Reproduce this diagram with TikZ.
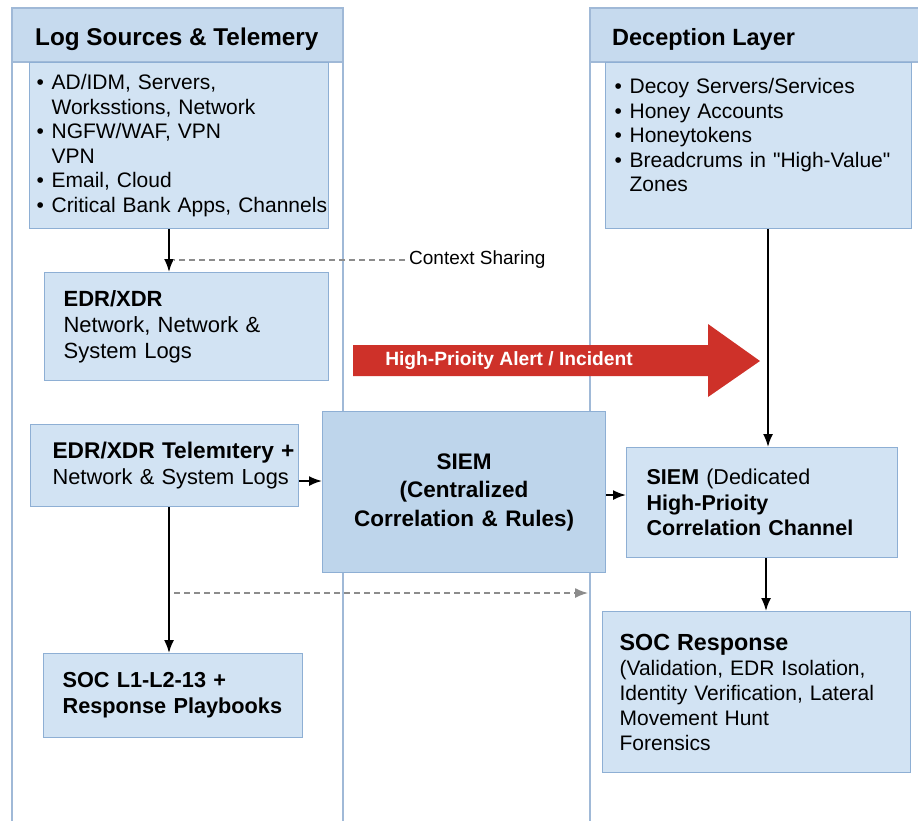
\documentclass[tikz,border=0pt]{standalone}
\usepackage{fontspec}
\setmainfont{Liberation Sans}
% same face without the TeX character mapping, for straight quotes
\newfontfamily\plainquote{Liberation Sans}
\usetikzlibrary{arrows.meta,calc}

\definecolor{headfill}{HTML}{C6DAEE}
\definecolor{boxfill}{HTML}{D2E3F3}
\definecolor{siemfill}{HTML}{BED5EB}
\definecolor{boxline}{HTML}{8EAFD4}
\definecolor{laneline}{HTML}{A0B9D7}
\definecolor{alertred}{HTML}{CE3129}
\definecolor{dashgray}{HTML}{8C8C8C}

% one unbreakable line of box text
\newcommand\bline[1]{\mbox{#1}}
\newcommand\bul{\makebox[15pt][l]{•}}
\newcommand\ind{\hspace*{15pt}}
\newcommand\fs[2]{\fontsize{#1}{#2}\selectfont}
\newcommand\sq{{\plainquote"}}

\tikzset{
  lane/.style={draw=laneline, line width=1.5pt},
  headtext/.style={anchor=base west, inner sep=0pt, font=\fs{23.5}{28}\bfseries},
  box/.style={draw=boxline, fill=boxfill, line width=1.2pt, anchor=north west,
              align=left, inner ysep=0pt},
  arr/.style={draw=black, line width=1.8pt, -{Latex[length=13pt,width=10pt]}},
  ctxline/.style={draw=dashgray, line width=1.2pt, dash pattern=on 6pt off 4pt},
  dasharrow/.style={draw=dashgray, line width=1.6pt, dash pattern=on 6pt off 4pt,
                    -{Latex[length=13pt,width=10pt]}},
}

\begin{document}
\begin{tikzpicture}[x=1pt,y=-1pt]
\useasboundingbox (0,0) rectangle (918,820);
\fill[white] (0,0) rectangle (918,820);

% swimlanes
\begin{scope}
  \clip (0,0) rectangle (918,820);
  \fill[headfill] (12,8) rectangle (343,62);
  \fill[headfill] (590,8) rectangle (940,62);
  \draw[lane] (12,62) -- (343,62);
  \draw[lane] (590,62) -- (940,62);
  \draw[lane] (12,840) -- (12,8) -- (343,8) -- (343,840);
  \draw[lane] (590,840) -- (590,8) -- (940,8);
\end{scope}
\node[headtext, font=\fs{24.3}{28}\bfseries] (hlog) at (35,45) {Log Sources \& Telemery};
\node[headtext] (hdec) at (612,45) {Deception Layer};

% left lane
\node[box, minimum height=166pt, text width=285pt, inner xsep=7pt, font=\fs{21}{24.5}]
  (logs) at (29,62) {%
  \bline{\bul AD/IDM, Servers,}\\
  \bline{\ind Worksstions, Network}\\
  \bline{\bul NGFW/WAF, VPN}\\
  \bline{\ind VPN}\\
  \bline{\bul Email, Cloud}\\
  \bline{\bul Critical Bank Apps, Channels}};

\node[box, minimum height=108pt, text width=246pt, inner xsep=19pt, font=\fs{22}{26}]
  (edr) at (44,272) {\bline{\textbf{EDR/XDR}}\\ \bline{Network, Network \&}\\ \bline{System Logs}};

\node[box, minimum height=82pt, text width=224pt, inner xsep=22pt, font=\fs{21.8}{26.5}]
  (tel) at (30,424) {\bline{\fs{22.7}{26.5}\bfseries EDR/XDR Telemıtery +}\\ \bline{Network \& System Logs}};

\node[box, minimum height=84pt, text width=221pt, inner xsep=19pt, font=\fs{21.7}{26}\bfseries]
  (socl) at (43,653) {\bline{SOC L1-L2-13 +}\\ \bline{Response Playbooks}};

% centre
\node[box, fill=siemfill, minimum height=161pt, text width=263pt, inner xsep=10pt,
      align=center, font=\fs{22.5}{28.5}\bfseries]
  (siem) at (322,411) {SIEM\\ (Centralized\\ Correlation \& Rules)};

% right lane
\node[box, minimum height=166pt, text width=288pt, inner xsep=9pt, font=\fs{21}{24.5}]
  (decoy) at (605,62) {%
  \bline{\bul Decoy Servers/Services}\\
  \bline{\bul Honey Accounts}\\
  \bline{\bul Honeytokens}\\
  \bline{\bul Breadcrums in \sq High-Value\sq}\\
  \bline{\ind Zones}\\[-4pt]\mbox{}};

\node[box, minimum height=110pt, text width=231pt, inner xsep=20pt, font=\fs{21.5}{25.5}]
  (siemhp) at (626,447) {\bline{\textbf{SIEM} (Dedicated}\\ \bline{\textbf{High-Prioity}}\\ \bline{\textbf{Correlation Channel}}};

\node[box, minimum height=161pt, text width=274pt, inner xsep=17pt, font=\fs{21}{25}]
  (soc) at (602,611) {\bline{\fs{23.3}{25}\bfseries SOC Response}\\
  \bline{(Validation, EDR Isolation,}\\
  \bline{Identity Verification, Lateral}\\
  \bline{Movement Hunt}\\
  \bline{Forensics}};

% high-priority alert arrow
\fill[alertred] (353,345) -- (708,345) -- (708,324) -- (760,361) -- (708,397)
  -- (708,376) -- (353,376) -- cycle;
\node[text=white, font=\fs{19.2}{22}\bfseries, inner sep=0pt] (alert) at (509,361)
  {High-Prioity Alert / Incident};

% context sharing
\node[anchor=west, inner sep=0pt, font=\fs{19}{22}] (ctx) at (409,260) {Context Sharing};
\draw[ctxline] (ctx.west) ++(-4,0) -- (ctx.west -| 174,0);

% flows
\draw[arr] (logs.south -| 169,0) -- (edr.north -| 169,0);
\draw[arr] (tel.east |- 0,481) -- (siem.west |- 0,481);
\draw[arr] (siem.east |- 0,495) -- (siemhp.west |- 0,495);
\draw[arr] (decoy.south -| 768,0) -- (siemhp.north -| 768,0);
\draw[arr] (siemhp.south -| 766,0) -- (soc.north -| 766,0);
\draw[arr] (tel.south -| 169,0) -- (socl.north -| 169,0);

\coordinate (dsrc) at (174,593);
\coordinate (ddst) at (588,593);
\draw[dasharrow] (dsrc) -- (ddst);
\end{tikzpicture}
\end{document}
